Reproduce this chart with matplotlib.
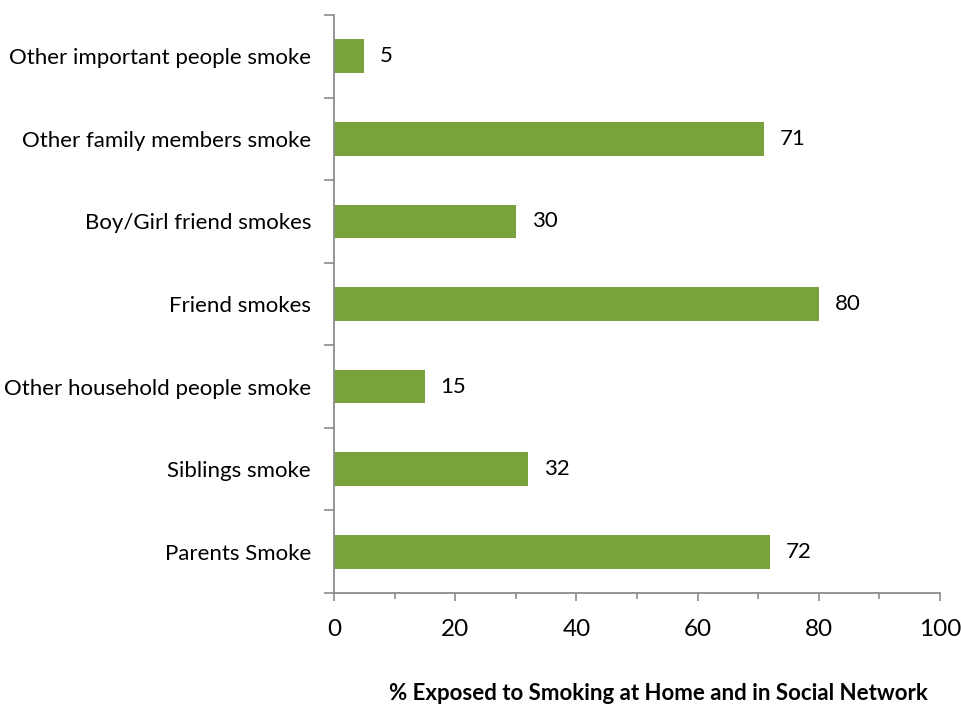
import matplotlib
matplotlib.use("Agg")
import matplotlib.pyplot as plt
from matplotlib.ticker import MultipleLocator

categories = ["Parents Smoke", "Siblings smoke", "Other household people smoke",
              "Friend smokes", "Boy/Girl friend smokes", "Other family members smoke",
              "Other important people smoke"]
values = [72, 32, 15, 80, 30, 71, 5]

plt.rcParams['font.family'] = ['Lato', 'DejaVu Sans']

fig = plt.figure(figsize=(9.61, 7.05), dpi=100)
ax = fig.add_axes([334 / 961, 1 - 593 / 705, 606 / 961, 578 / 705])

ypos = list(range(len(categories)))
ax.barh(ypos, values, height=0.41, color="#77A23C")

for y, v in zip(ypos, values):
    ax.text(v + 2.6, y, str(v), va="center", ha="left", fontsize=16)

ax.set_xlim(0, 100)
ax.set_ylim(-0.5, len(categories) - 0.5)
ax.xaxis.set_major_locator(MultipleLocator(20))
ax.xaxis.set_minor_locator(MultipleLocator(10))
ax.set_yticks(ypos)
ax.set_yticklabels(categories, fontsize=16)
ax.set_yticks([i - 0.5 for i in range(len(categories) + 1)], minor=True)

ax.tick_params(axis="x", which="major", length=6, width=1.2, color="#8c8c8c",
               labelsize=17.5, pad=13)
ax.tick_params(axis="x", which="minor", length=4, width=1.2, color="#8c8c8c")
ax.tick_params(axis="y", which="major", length=0, pad=16.5)
ax.tick_params(axis="y", which="minor", length=7, width=1.2, color="#8c8c8c")

for s in ["top", "right"]:
    ax.spines[s].set_visible(False)
for s in ["left", "bottom"]:
    ax.spines[s].set_color("#8c8c8c")
    ax.spines[s].set_linewidth(1.3)

fig.text(658 / 961, 1 - 693 / 705, "% Exposed to Smoking at Home and in Social Network",
         ha="center", va="center", fontsize=16, fontweight="bold")

fig.savefig("out.png", dpi=100)
